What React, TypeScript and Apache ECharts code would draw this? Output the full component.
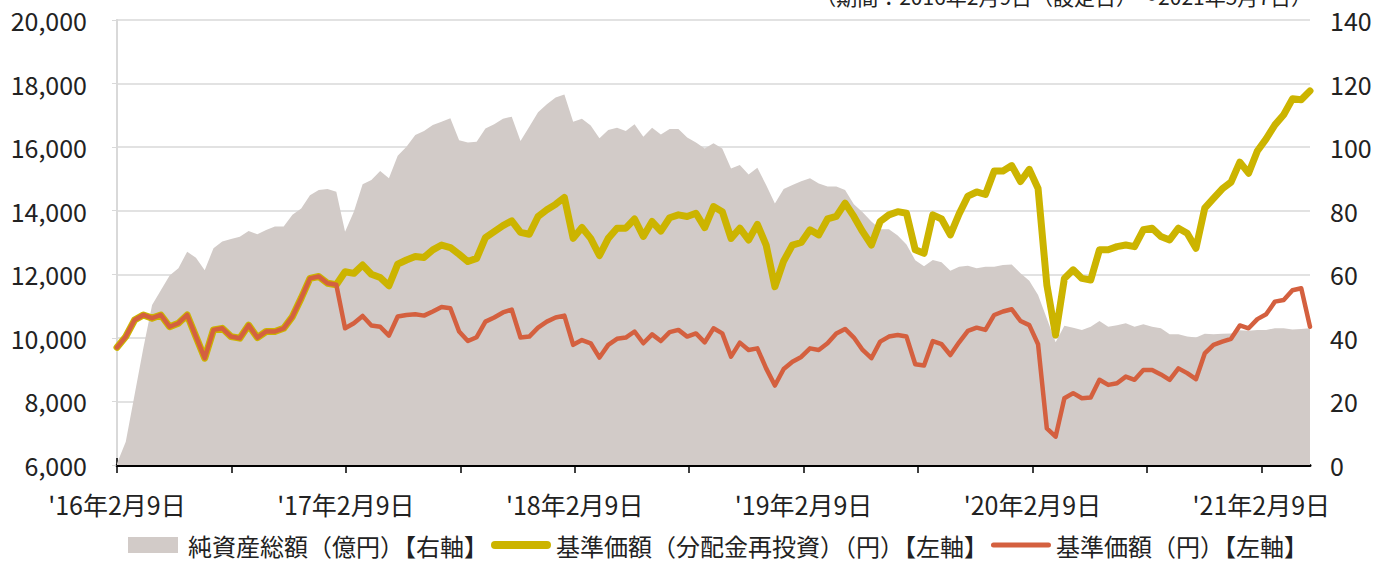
import React, { useEffect, useRef } from "react";
import * as echarts from "echarts";

// sample every 14 days from 2016-02-09 (設定日)
const START_DATE = "2016-02-09";
const STEP_DAYS = 14;

// 基準価額（円）【左軸】
const navValues = [
  9700, 10040, 10560, 10720, 10620, 10720, 10350, 10460, 10720, 10040,
  9360, 10250, 10300, 10040, 9990, 10400, 10010, 10200, 10200, 10300,
  10670, 11250, 11870, 11930, 11720, 11670, 10300, 10460, 10690, 10390,
  10350, 10070, 10670, 10720, 10740, 10700, 10830, 10970, 10930, 10200,
  9900, 10020, 10510, 10640, 10800, 10890, 10010, 10040, 10320, 10510,
  10640, 10700, 9780, 9930, 9830, 9380, 9780, 9970, 10010, 10200,
  9830, 10110, 9900, 10180, 10250, 10040, 10140, 9860, 10300, 10140,
  9410, 9850, 9620, 9670, 9040, 8500, 9020, 9250, 9400, 9670,
  9620, 9830, 10140, 10280, 10010, 9620, 9360, 9880, 10040, 10090,
  10040, 9170, 9130, 9900, 9800, 9460, 9860, 10220, 10320, 10250,
  10720, 10830, 10900, 10530, 10400, 9800, 7150, 6890, 8100, 8260,
  8100, 8120, 8680, 8520, 8570, 8780, 8680, 8990, 8990, 8850,
  8680, 9040, 8890, 8700, 9510, 9780, 9880, 9970, 10390, 10300,
  10590, 10740, 11140, 11190, 11500, 11560, 10350,
];

// 基準価額（分配金再投資）（円）【左軸】
const reinvestValues = [
  9700, 10040, 10560, 10720, 10620, 10720, 10350, 10460, 10720, 10040,
  9360, 10250, 10300, 10040, 9990, 10400, 10010, 10200, 10200, 10300,
  10670, 11250, 11870, 11930, 11720, 11670, 12080, 12030, 12290, 12000,
  11900, 11640, 12320, 12450, 12560, 12530, 12770, 12920, 12840, 12630,
  12400, 12500, 13150, 13340, 13530, 13680, 13320, 13260, 13820, 14030,
  14200, 14420, 13130, 13470, 13130, 12590, 13130, 13450, 13450, 13740,
  13190, 13660, 13360, 13780, 13870, 13820, 13920, 13470, 14130, 13970,
  13130, 13450, 13080, 13570, 12920, 11610, 12420, 12920, 13000, 13400,
  13240, 13740, 13820, 14240, 13820, 13340, 12920, 13660, 13870, 13970,
  13920, 12770, 12660, 13870, 13740, 13240, 13900, 14460, 14590, 14510,
  15250, 15250, 15420, 14920, 15300, 14700, 11670, 10090, 11870, 12140,
  11870, 11820, 12770, 12770, 12870, 12920, 12870, 13400, 13450, 13190,
  13080, 13450, 13290, 12820, 14080, 14390, 14690, 14900, 15530, 15180,
  15880, 16260, 16700, 17020, 17520, 17490, 17770,
];

// 純資産総額（億円）【右軸】
const netAssets = [
  0.5, 7.3, 22, 36.7, 50.3, 55, 59.6, 61.9, 67.1, 65.2,
  61.3, 68.2, 70.3, 71.1, 71.8, 73.6, 72.6, 73.9, 75.0, 75.0,
  78.7, 80.7, 84.9, 86.5, 86.8, 86.0, 73.4, 79.7, 88.3, 89.7,
  92.5, 90.2, 97.3, 100.1, 103.8, 105.1, 107.0, 108.0, 109.1, 102.2,
  101.5, 101.7, 105.9, 107.2, 108.9, 109.6, 101.9, 106.4, 111.0, 113.5,
  115.6, 116.6, 108.0, 108.9, 106.8, 102.8, 105.4, 106.1, 105.1, 107.2,
  103.3, 106.1, 104.0, 105.7, 105.7, 103.0, 101.5, 99.6, 101.2, 99.6,
  93.3, 94.4, 91.4, 93.5, 88.1, 82.3, 86.8, 88.1, 89.3, 90.2,
  88.6, 87.6, 87.6, 86.5, 82.0, 79.5, 76.6, 74.2, 74.2, 72.2,
  69.4, 64.4, 62.5, 64.5, 63.8, 61.1, 62.4, 62.7, 61.9, 62.4,
  62.4, 62.9, 63.1, 60.3, 58.0, 53.5, 46.1, 38.6, 43.8, 43.2,
  42.5, 43.5, 45.3, 43.5, 44.0, 44.6, 43.5, 44.3, 43.5, 43.0,
  41.1, 41.1, 40.4, 40.1, 41.3, 41.1, 41.3, 41.4, 42.4, 42.2,
  42.5, 42.5, 43.0, 43.0, 42.6, 42.8, 43.0,
];

const xTickLabels = ["'16年2月9日", "'17年2月9日", "'18年2月9日", "'19年2月9日", "'20年2月9日", "'21年2月9日"];
const leftTicks = [6000, 8000, 10000, 12000, 14000, 16000, 18000, 20000];
const rightTicks = [0, 20, 40, 60, 80, 100, 120, 140];

const SERIES_NAMES = ["純資産総額（億円）【右軸】", "基準価額（分配金再投資）（円）【左軸】", "基準価額（円）【左軸】"];
const TITLE = "（期間：2016年2月9日（設定日）～2021年5月7日）";

const FONT = "'Noto Sans CJK JP', 'Noto Sans', sans-serif";
const YEAR = 365.25;

const GREY_ICON = "path://M0,0 L50,0 L50,16 L0,16 Z";
const YELLOW_ICON = "path://M4,0 L56,0 A4,4 0 0 1 56,8 L4,8 A4,4 0 0 1 4,0 Z";
const ORANGE_ICON = "path://M2.5,0 L57.5,0 A2.5,2.5 0 0 1 57.5,5 L2.5,5 A2.5,2.5 0 0 1 2.5,0 Z";

export default function App() {
  const ref = useRef<HTMLDivElement>(null);
  useEffect(() => {
    if (!ref.current) return;
    const chart = echarts.init(ref.current, undefined, { renderer: "svg" });
    const days = navValues.map((_, i) => i * STEP_DAYS);
    const maxDay = days[days.length - 1];
    const yearTicks = xTickLabels.map((_, k) => k * YEAR);
    const halfTicks: number[] = [];
    for (let k = 0; (k * YEAR) / 2 <= maxDay; k++) halfTicks.push((k * YEAR) / 2);
    const pair = (arr: number[]) => arr.map((v, i) => [days[i], v]);

    const xCommon = {
      type: "value",
      min: 0,
      max: maxDay,
      splitLine: { show: false },
    };

    chart.setOption({
      animation: false,
      backgroundColor: "#ffffff",
      textStyle: { fontFamily: FONT },
      grid: { left: 117, right: 80, top: 20, bottom: 96 },
      graphic: [
        {
          type: "text",
          right: 78,
          top: -15,
          style: { text: TITLE, font: `21px ${FONT}`, fill: "#222" },
        },
      ],
      legend: {
        left: 123,
        top: 528,
        itemWidth: 60,
        itemHeight: 16,
        itemGap: 3,
        symbolKeepAspect: true,
        textStyle: { fontSize: 24, color: "#222", fontFamily: FONT },
        data: [
          { name: SERIES_NAMES[0], icon: GREY_ICON, itemStyle: { color: "#D2CBC8" } },
          { name: SERIES_NAMES[1], icon: YELLOW_ICON, itemStyle: { color: "#CCB400" } },
          { name: SERIES_NAMES[2], icon: ORANGE_ICON, itemStyle: { color: "#D4603F" } },
        ],
      },
      xAxis: [
        {
          ...xCommon,
          axisLine: { show: true, lineStyle: { color: "#000", width: 3 } },
          axisTick: {
            show: true,
            length: 8,
            lineStyle: { color: "#000", width: 1.5 },
            customValues: halfTicks,
          },
          axisLabel: {
            customValues: yearTicks,
            formatter: (v: number) => xTickLabels[Math.round(v / YEAR)] ?? "",
            fontSize: 25,
            color: "#222",
            margin: 26,
            fontFamily: FONT,
          },
        },
        {
          ...xCommon,
          position: "bottom",
          axisLine: { show: false },
          axisTick: {
            show: true,
            inside: true,
            length: 7,
            lineStyle: { color: "#000", width: 1.5 },
            customValues: yearTicks,
          },
          axisLabel: { show: false },
        },
      ],
      yAxis: [
        {
          type: "value",
          min: leftTicks[0],
          max: leftTicks[leftTicks.length - 1],
          interval: 2000,
          axisLine: { show: true, lineStyle: { color: "#D9D9D9", width: 2 } },
          axisTick: { show: false },
          splitLine: { show: true, lineStyle: { color: "#D9D9D9", width: 1.5 } },
          axisLabel: {
            fontSize: 25,
            color: "#222",
            margin: 30,
            fontFamily: FONT,
            formatter: (v: number) => v.toLocaleString("en-US"),
          },
        },
        {
          type: "value",
          min: rightTicks[0],
          max: rightTicks[rightTicks.length - 1],
          interval: 20,
          position: "right",
          axisLine: { show: true, lineStyle: { color: "#D9D9D9", width: 2 } },
          axisTick: { show: true, inside: true, length: 5, lineStyle: { color: "#D9D9D9" } },
          splitLine: { show: false },
          axisLabel: { fontSize: 25, color: "#222", margin: 20, fontFamily: FONT },
        },
      ],
      series: [
        {
          name: SERIES_NAMES[0],
          type: "line",
          yAxisIndex: 1,
          data: pair(netAssets),
          symbol: "none",
          color: "#D2CBC8",
          lineStyle: { width: 0, color: "#D2CBC8" },
          areaStyle: { color: "#D2CBC8", opacity: 1 },
          z: 1,
        },
        {
          name: SERIES_NAMES[1],
          type: "line",
          yAxisIndex: 0,
          data: pair(reinvestValues),
          symbol: "none",
          color: "#CCB400",
          lineStyle: { width: 7, color: "#CCB400", cap: "round", join: "round" },
          z: 3,
        },
        {
          name: SERIES_NAMES[2],
          type: "line",
          yAxisIndex: 0,
          data: pair(navValues),
          symbol: "none",
          color: "#D4603F",
          lineStyle: { width: 4.5, color: "#D4603F", cap: "round", join: "round" },
          z: 4,
        },
      ],
    });
    return () => chart.dispose();
  }, []);
  return (
    <div
      ref={ref}
      style={{ position: "absolute", left: 0, top: 0, width: 1390, height: 561 }}
    />
  );
}
